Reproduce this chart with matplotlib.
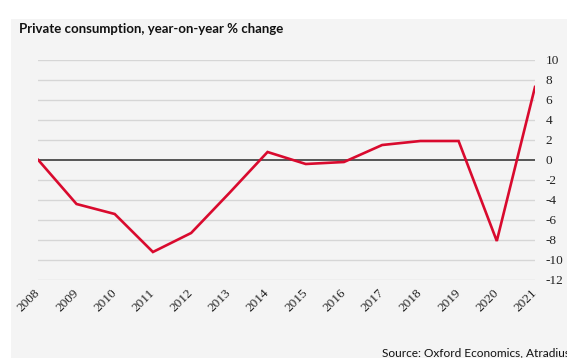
import matplotlib
matplotlib.use("Agg")
import matplotlib.pyplot as plt
from matplotlib.patches import Rectangle

plt.rcParams["font.family"] = ["Liberation Serif", "DejaVu Serif"]

# ---------------------------
# DATA
# ---------------------------
years = [2008, 2009, 2010, 2011, 2012, 2013, 2014,
         2015, 2016, 2017, 2018, 2019, 2020, 2021]
consumption = [0.0, -4.4, -5.4, -9.2, -7.3, -3.3, 0.8,
               -0.4, -0.2, 1.5, 1.9, 1.9, -8.1, 7.3]
y_ticks = [10, 8, 6, 4, 2, 0, -2, -4, -6, -8, -10, -12]

W, H = 567, 358
fig = plt.figure(figsize=(W / 100, H / 100), dpi=100)
fig.patch.set_facecolor("white")

# grey panel behind the chart
fig.patches.append(Rectangle((11 / W, 0), 1 - 11 / W, (H - 19) / H,
                             transform=fig.transFigure, facecolor="#f4f4f4",
                             edgecolor="none", zorder=-10))

ax = fig.add_axes([38.3 / W, (H - 280) / H, (535 - 38.3) / W, 220 / H])
ax.set_facecolor("none")

# ---------------------------
# GRID + LINE
# ---------------------------
for t in y_ticks:
    if t != 0:
        ax.axhline(t, color="#d6d6d6", lw=1.0, zorder=1)
ax.axhline(0, color="#555555", lw=1.4, zorder=2)

ax.plot(years, consumption, color="#d90a2e", lw=1.9, zorder=3,
        solid_joinstyle="miter")

ax.set_xlim(2008, 2021)
ax.set_ylim(-12, 10)

for s in ax.spines.values():
    s.set_visible(False)

ax.yaxis.tick_right()
ax.set_yticks(y_ticks)
ax.set_yticklabels([str(t) for t in y_ticks], color="#222222", fontsize=9.5)
ax.tick_params(axis="y", length=0, pad=7.5)
ax.set_xticks(years)
ax.set_xticklabels([str(y) for y in years], rotation=45,
                   rotation_mode="anchor", ha="right", va="center",
                   color="#222222", fontsize=9.5)
ax.tick_params(axis="x", length=0, pad=8)

# ---------------------------
# TEXT
# ---------------------------
fig.text(19 / W, 1 - 29 / H, "Private consumption, year-on-year % change",
         family="Lato", weight="bold", fontsize=9.5, color="#111111",
         va="center", ha="left")
fig.text(382 / W, 1 - 353 / H, "Source: Oxford Economics, Atradius",
         family="Lato", fontsize=8.6, color="#111111", va="center", ha="left")

fig.savefig("out.png", dpi=100, facecolor="white")
